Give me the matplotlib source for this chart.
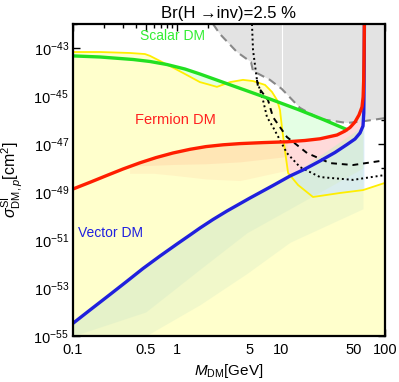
import numpy as np
import matplotlib
matplotlib.use("Agg")
import matplotlib.pyplot as plt
from matplotlib.ticker import FixedLocator, FixedFormatter, LogFormatterSciNotation

plt.rcParams['font.family'] = ['Liberation Sans', 'DejaVu Sans']
plt.rcParams['mathtext.fontset'] = 'custom'
plt.rcParams['mathtext.rm'] = 'Liberation Sans'
plt.rcParams['mathtext.it'] = 'Liberation Sans:italic'
plt.rcParams['mathtext.bf'] = 'Liberation Sans:bold'

# ---------------- data ----------------
scalar_m = [0.1, 0.182, 0.378, 0.55, 0.80, 1.194, 1.66, 3.6, 7.83, 14.6, 25.4, 44.0]
scalar_sigma = [4.68e-44, 4.22e-44, 3.32e-44, 2.74e-44, 2.05e-44, 1.33e-44, 8.26e-45,
                2.49e-45, 7.5e-46, 2.74e-46, 1.05e-46, 3.83e-47]

fermion_m = [0.1, 0.1457, 0.2076, 0.3026, 0.4406, 0.6282, 0.9152, 1.334, 1.90, 2.769, 4.035,
             6.713, 11.42, 17.01, 23.71, 34.55, 41.25, 46.09, 51.46, 56.23, 60.09, 61.6,
             62.4, 62.9, 63.3]
fermion_sigma = [1.334e-49, 2.535e-49, 4.73e-49, 9.08e-49, 1.648e-48, 2.71e-48, 4.22e-48,
                 6.01e-48, 7.79e-48, 9.26e-48, 1.039e-47, 1.143e-47, 1.235e-47, 1.40e-47,
                 1.648e-47, 2.37e-47, 3.48e-47, 4.87e-47, 8.26e-47, 1.616e-46, 3.48e-46,
                 9.08e-46, 4.64e-45, 5.11e-44, 1.0e-42]

vector_m = [0.1, 0.1457, 0.2269, 0.3233, 0.4711, 0.6864, 1.0, 1.334, 1.664, 2.219, 3.026,
            5.033, 8.377, 12.21, 17.01, 23.71, 33.05, 43.12, 51.46, 57.5, 61.44, 62.5,
            62.8, 63.1, 63.4]
vector_sigma = [3.38e-55, 1.21e-54, 5.36e-54, 1.78e-53, 6.49e-53, 2.15e-52, 6.81e-52,
                1.616e-51, 3.16e-51, 7.15e-51, 1.616e-50, 5.62e-50, 1.866e-49, 4.64e-49,
                9.08e-49, 1.96e-48, 4.43e-48, 9.53e-48, 1.616e-47, 2.87e-47, 5.62e-47,
                1.96e-46, 1.10e-45, 3.16e-44, 1.0e-42]

invis_m = [0.1, 0.182, 0.353, 0.492, 0.55, 0.895, 1.19, 1.66, 2.08, 2.42, 3.24, 4.31, 5.38, 7.02,
           8.19, 9.16, 9.78, 10.2, 10.9, 11.7, 14.6, 20.3, 36.9, 61.4, 100.0]
invis_sigma = [6.8e-44, 6.8e-44, 6.2e-44, 5.6e-44, 4.7e-44, 1.6e-44, 8.3e-45, 3.8e-45, 2.9e-45,
               2.4e-45, 3.8e-45, 4.7e-45, 4.2e-45, 2.9e-45, 1.48e-45, 6.8e-46, 2.6e-46, 5.1e-47,
               5.6e-48, 6.2e-49, 1.95e-49, 6.2e-50, 9.1e-50, 1.2e-49, 2.4e-49]

dd_m = [2.22, 2.59, 3.77, 5.15, 5.38, 7.83, 10.2, 15.2, 23.7, 43.2, 64.3, 100.0]
dd_sigma = [1.0e-42, 3.8e-43, 6.8e-44, 2.6e-44, 1.1e-44, 4.7e-45, 1.95e-45, 3.2e-46, 1.1e-46,
            7.5e-47, 9.1e-47, 1.2e-46]

dotted_m = [5.26, 5.38, 5.87, 6.71, 7.33, 8.37, 11.4, 15.2, 23.7, 49.2, 100.0]
dotted_sigma = [1.0e-42, 8.3e-44, 4.7e-45, 6.8e-46, 1.33e-46, 5.1e-47, 4.2e-48, 1.1e-48,
                4.2e-49, 3.2e-49, 5.1e-49]

dashed_m = [5.87, 6.01, 7.5, 8.37, 11.4, 17.8, 29.6, 49.2, 100.0]
dashed_sigma = [4.7e-45, 2.4e-45, 6.8e-46, 1.33e-46, 1.95e-47, 4.2e-48, 1.6e-48, 1.33e-48, 2.1e-48]

# diffuse point-cloud envelopes (approximated as shaded bands)
peach_m = [0.35, 0.6, 0.915, 1.9, 4.04, 11.4]
peach_low = [6.0e-49, 6.0e-49, 5.0e-49, 3.5e-49, 3.0e-49, 8.0e-49]
peach_core = [1.2e-48, 1.3e-48, 1.4e-48, 1.5e-48, 1.8e-48, 3.0e-48]
paleg_m = [0.1, 0.5, 1.66, 4.7, 12.2, 61.4]
paleg_low = [1.0e-55, 1.0e-55, 2.0e-54, 4.0e-53, 8.0e-52, 2.0e-50]
paleg_core = [1.0e-55, 1.0e-54, 6.0e-53, 2.0e-51, 2.0e-50, 1.0e-48]

xticks = [0.1, 0.5, 1, 5, 10, 50, 100]
xticklabels = ["0.1", "0.5", "1", "5", "10", "50", "100"]
title = "Br(H \u2192inv)=2.5 %"

XMIN, XMAX = 0.1, 100.0
YMIN, YMAX = 1e-55, 1e-42

# ---------------- figure ----------------
fig = plt.figure(figsize=(3.99, 3.82), dpi=100)
ax = fig.add_axes([73/399, 1-336/382, (385-73)/399, (336-24)/382])
ax.set_xscale('log')
ax.set_yscale('log')
ax.set_xlim(XMIN, XMAX)
ax.set_ylim(YMIN, YMAX)

sm, ss = np.array(scalar_m), np.array(scalar_sigma)
fm, fs = np.array(fermion_m), np.array(fermion_sigma)
vm, vs = np.array(vector_m), np.array(vector_sigma)

# light green: between scalar and fermion curves
fmask = fm <= sm[-1]
poly_x = np.concatenate([sm, fm[fmask][::-1]])
poly_y = np.concatenate([ss, fs[fmask][::-1]])
ax.fill(poly_x, poly_y, color='#E4FFE4', lw=0, zorder=1)
# pink: between fermion and vector curves
ax.fill(np.concatenate([fm, vm[::-1]]), np.concatenate([fs, vs[::-1]]), color='#FFDADA', lw=0, zorder=1)
# light blue: below vector curve
ax.fill(np.concatenate([vm, [vm[-1], XMIN]]), np.concatenate([vs, [YMIN, YMIN]]),
        color='#DDEEFF', lw=0, zorder=1)
# yellow allowed region below invisible-width bound
ax.fill(np.concatenate([invis_m, [XMAX, XMIN]]), np.concatenate([invis_sigma, [YMIN, YMIN]]),
        color='#FFFFCC', lw=0, zorder=2)

# diffuse clouds (two soft layers each)
pk_up = 10**np.interp(np.log10(peach_m), np.log10(fm), np.log10(fs))
ax.fill_between(peach_m, peach_low, pk_up, color='#FFD9AA', alpha=0.28, lw=0, zorder=3)
ax.fill_between(peach_m, peach_core, pk_up, color='#FFD9AA', alpha=0.5, lw=0, zorder=3)
pg_up = 10**np.interp(np.log10(paleg_m), np.log10(vm), np.log10(vs))
ax.fill_between(paleg_m, paleg_low, pg_up, color='#D6EBC8', alpha=0.32, lw=0, zorder=3)
ax.fill_between(paleg_m, paleg_core, pg_up, color='#D6EBC8', alpha=0.42, lw=0, zorder=3)

# gray excluded region
ax.fill(np.concatenate([dd_m, [XMAX, dd_m[0]]]), np.concatenate([dd_sigma, [YMAX, YMAX]]),
        color='#E3E3E3', lw=0, zorder=4)
ax.plot([10.2, 10.2], [YMAX, 1.95e-45], color='white', lw=0.8, zorder=4.5)
ax.plot(dd_m, dd_sigma, color='#888888', lw=1.5, ls=(0, (4, 2.5)), zorder=5)

# yellow boundary
ax.plot(invis_m, invis_sigma, color='#FFEE00', lw=1.3, zorder=6)

# black projections
ax.plot(dotted_m, dotted_sigma, color='black', lw=1.4, ls=(0, (1, 1.5)), zorder=7)
ax.plot(dashed_m, dashed_sigma, color='black', lw=1.4, ls=(0, (3, 2.5)), zorder=7)

# theory curves
ax.plot(sm, ss, color='#22E022', lw=2.4, zorder=8, solid_capstyle='butt', solid_joinstyle='round')
ax.plot(vm, vs, color='#2020DD', lw=2.4, zorder=8, solid_capstyle='butt', solid_joinstyle='round')
ax.plot(fm, fs, color='#FF1E00', lw=2.4, zorder=9, solid_capstyle='butt', solid_joinstyle='round')

# labels in plot
ax.text(0.44, 10**-42.5, "Scalar DM", color='#33EE33', fontsize=10, ha='left', va='center', zorder=10)
ax.text(0.394, 1e-46, "Fermion DM", color='#FF2020', fontsize=10.5, ha='left', va='center', zorder=10)
ax.text(0.1117, 10**-50.71, "Vector DM", color='#2020E0', fontsize=10, ha='left', va='center', zorder=10)

# ticks
ax.xaxis.set_major_locator(FixedLocator(xticks))
ax.xaxis.set_major_formatter(FixedFormatter(xticklabels))
minor_x = [v * d for d in (0.1, 1, 10) for v in (2, 3, 4, 6, 7, 8, 9)]
ax.xaxis.set_minor_locator(FixedLocator(minor_x))
ax.xaxis.set_minor_formatter(FixedFormatter([""] * len(minor_x)))
ax.yaxis.set_major_locator(FixedLocator([10.0**e for e in range(-55, -42, 2)]))
ax.yaxis.set_major_formatter(LogFormatterSciNotation())
ax.yaxis.set_minor_locator(FixedLocator([10.0**e for e in range(-54, -41, 2)]))
ax.yaxis.set_minor_formatter(FixedFormatter([""] * 7))
ax.tick_params(which='both', direction='in', top=True, right=True, colors='black',
               labelsize=10.5, width=1.0)
ax.tick_params(which='major', length=5)
ax.tick_params(which='minor', length=3)
ax.tick_params(axis='x', pad=5)
ax.tick_params(axis='y', pad=3)
for sp in ax.spines.values():
    sp.set_linewidth(1.6)
    sp.set_zorder(12)

ax.set_xlabel(r"$M_{\rm DM}$[GeV]", fontsize=11, labelpad=4)
ax.set_ylabel(r"$\sigma^{\rm SI}_{{\rm DM},p}$[cm$^2$]", fontsize=11.5)
ax.yaxis.set_label_coords(-0.155, 0.5)
ax.set_title(title, fontsize=12, pad=4)

fig.savefig("out.png", dpi=100)
